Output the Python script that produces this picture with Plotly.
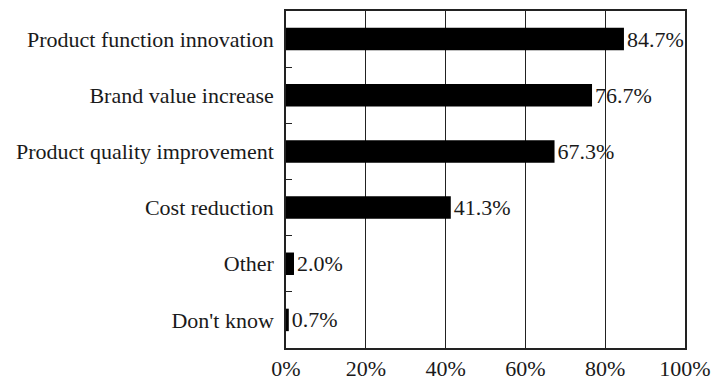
import plotly.graph_objects as go

categories = [
    "Product function innovation",
    "Brand value increase",
    "Product quality improvement",
    "Cost reduction",
    "Other",
    "Don't know",
]
values = [84.7, 76.7, 67.3, 41.3, 2.0, 0.7]
x_ticks = [0, 20, 40, 60, 80, 100]
x_tick_labels = [f"{v}%" for v in x_ticks]

font = dict(family="Liberation Serif", size=22, color="#1a1a1a")

fig = go.Figure(
    go.Bar(
        y=categories,
        x=values,
        orientation="h",
        marker=dict(color="black", line=dict(width=0)),
        width=0.4,
        text=[f"{v:.1f}%" for v in values],
        textposition="outside",
        textfont=font,
        cliponaxis=False,
    )
)

fig.update_layout(
    width=714,
    height=382,
    margin=dict(l=286, r=29, t=11, b=34, autoexpand=False),
    paper_bgcolor="white",
    plot_bgcolor="white",
    showlegend=False,
    font=font,
    uniformtext=dict(minsize=22, mode="show"),
)

fig.update_xaxes(
    range=[0, 100],
    tickvals=x_ticks,
    ticktext=x_tick_labels,
    showgrid=True,
    gridcolor="#222",
    gridwidth=1,
    showline=True,
    linecolor="#222",
    linewidth=1.5,
    mirror=True,
    ticks="",
    zeroline=False,
    tickfont=font,
    ticklabelstandoff=0,
    automargin=False,
)

fig.update_yaxes(
    categoryorder="array",
    categoryarray=categories,
    autorange="reversed",
    showgrid=False,
    showline=True,
    linecolor="#222",
    linewidth=1.5,
    mirror=True,
    ticks="inside",
    tickson="boundaries",
    ticklen=6,
    tickcolor="#222",
    tickfont=font,
    ticklabelstandoff=6,
    automargin=False,
)

fig.write_html("out.html")
